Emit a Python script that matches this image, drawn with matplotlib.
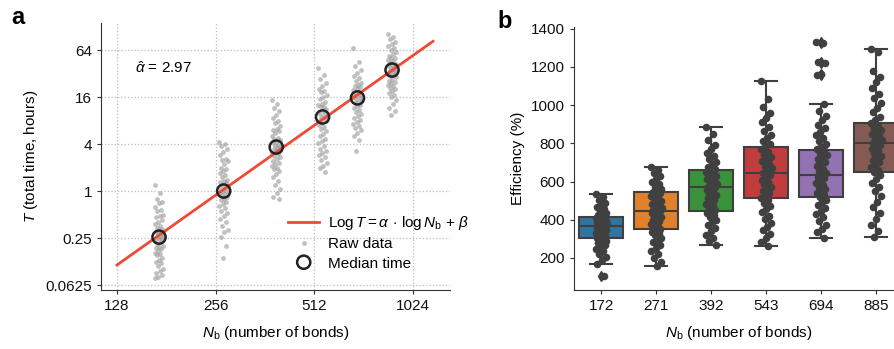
import numpy as np
import matplotlib
matplotlib.use("Agg")
import matplotlib.pyplot as plt
from matplotlib.ticker import FixedLocator, FixedFormatter, NullLocator

plt.rcParams['font.family'] = ['Liberation Sans', 'DejaVu Sans']
plt.rcParams['mathtext.fontset'] = 'custom'
plt.rcParams['mathtext.rm'] = 'Liberation Sans'
plt.rcParams['mathtext.it'] = 'Liberation Sans:italic'
plt.rcParams['font.size'] = 11

# ---- panel a data (hours) ----
n_bonds = [172, 271, 392, 543, 694, 885]
median_time = [0.257, 1.0, 3.66, 8.9, 15.6, 35.5]
alpha_hat = 2.97
fit_start = 128
fit_end = 1180
fit_t0 = 0.113

raw_172 = [1.2, 0.95, 0.8, 0.72, 0.7, 0.62, 0.58, 0.55, 0.5, 0.48, 0.46, 0.43, 0.4, 0.38,
           0.36, 0.34, 0.33, 0.31, 0.3, 0.29, 0.28, 0.27, 0.26, 0.26, 0.25, 0.24, 0.23, 0.22,
           0.21, 0.2, 0.19, 0.185, 0.18, 0.17, 0.16, 0.155, 0.15, 0.14, 0.13, 0.125, 0.12,
           0.11, 0.1, 0.095, 0.09, 0.085, 0.08, 0.077]
raw_271 = [4.3, 4.0, 3.8, 3.5, 3.2, 2.9, 2.6, 2.5, 2.4, 2.2, 2.0, 1.9, 1.8, 1.7, 1.6, 1.5,
           1.4, 1.35, 1.3, 1.25, 1.2, 1.15, 1.1, 1.05, 1.0, 1.0, 0.97, 0.93, 0.9, 0.85, 0.8,
           0.76, 0.72, 0.68, 0.64, 0.6, 0.56, 0.52, 0.48, 0.44, 0.4, 0.36, 0.32, 0.3, 0.26,
           0.2, 0.14]
raw_392 = [14.6, 13, 11.5, 10.5, 9.5, 8.7, 8, 7.4, 6.8, 6.3, 6.0, 5.9, 5.5, 5.1, 4.8, 4.6,
           4.5, 4.3, 4.1, 3.9, 3.8, 3.7, 3.6, 3.5, 3.4, 3.3, 3.1, 3.0, 2.8, 2.7, 2.55, 2.4,
           2.3, 2.2, 2.1, 2.0, 1.9, 1.8, 1.65, 1.5, 1.35, 1.2, 1.05, 0.95, 0.85, 0.79]
raw_543 = [37.5, 31, 27, 24, 22, 20, 19, 18.5, 17, 16, 15, 14, 13.2, 12.5, 12, 11.8, 11.2,
           10.6, 10.1, 9.6, 9.2, 8.9, 8.6, 8.2, 7.8, 7.4, 7.0, 6.6, 6.2, 5.8, 5.4, 5.0, 4.7,
           4.4, 4.1, 3.8, 3.5, 3.3, 3.1, 2.9, 2.7, 2.5, 2.3, 2.1, 1.95, 1.75]
raw_694 = [68, 45, 40, 36, 33, 30, 28, 26, 24.5, 23, 22, 21.5, 20.5, 19.5, 18.5, 17.5, 17,
           16.8, 16, 15.6, 15.2, 14.6, 14, 13.4, 12.8, 12.2, 11.6, 11, 10.4, 9.8, 9.2, 8.7,
           8.2, 7.7, 7.2, 6.8, 6.4, 6.0, 5.5, 5.0, 4.5, 3.25]
raw_885 = [103, 95, 88, 82, 77, 72, 68, 64, 60, 57, 54, 51, 50, 48, 46, 44, 42, 41, 40, 38.5,
           37, 36, 35.5, 35, 34, 33, 32, 31, 30, 28.5, 27, 26, 25, 24, 23, 22, 21, 20, 19,
           18, 17, 16, 14.5, 13, 11.5, 10.5, 9.4]
raw_time = [raw_172, raw_271, raw_392, raw_543, raw_694, raw_885]

# ---- panel b data (efficiency %) ----
eff_labels = ['172', '271', '392', '543', '694', '885']
box_q1 = [307, 354, 445, 515, 518, 648]
box_med = [366, 445, 569, 646, 636, 800]
box_q3 = [414, 545, 660, 783, 763, 905]
box_lo = [169, 158, 267, 261, 305, 309]
box_hi = [536, 676, 888, 1127, 1008, 1293]
box_fliers = [[107], [], [], [], [1330, 1325, 1225, 1220, 1165, 1160], []]
box_colors = ['#3274a1', '#e1812c', '#3a923a', '#c03d3e', '#9372b2', '#845b53']

eff_172 = [536, 520, 505, 490, 478, 466, 455, 445, 437, 430, 424, 418, 414, 410, 405, 400,
           396, 392, 388, 384, 380, 377, 373, 370, 366, 363, 360, 356, 352, 348, 344, 340,
           336, 332, 328, 324, 320, 316, 312, 307, 302, 296, 290, 283, 276, 268, 258, 248,
           236, 222, 205, 190, 169, 107]
eff_271 = [676, 660, 645, 628, 612, 598, 585, 574, 563, 554, 545, 538, 530, 522, 515, 507,
           500, 492, 485, 478, 470, 463, 456, 450, 445, 440, 434, 428, 421, 414, 407, 400,
           392, 384, 376, 368, 360, 354, 346, 337, 328, 318, 307, 295, 282, 268, 254, 238,
           220, 200, 180, 158]
eff_392 = [888, 850, 815, 790, 770, 750, 732, 716, 702, 690, 678, 668, 660, 652, 644, 636,
           628, 620, 612, 604, 596, 588, 580, 574, 569, 563, 556, 548, 540, 531, 522, 512,
           502, 492, 482, 472, 462, 453, 445, 436, 426, 414, 400, 386, 372, 356, 340, 322,
           305, 287, 267]
eff_543 = [1127, 1030, 990, 960, 935, 910, 888, 866, 846, 828, 812, 797, 783, 770, 757, 744,
           731, 718, 706, 694, 682, 670, 658, 646, 634, 622, 610, 598, 586, 574, 562, 550,
           538, 527, 515, 502, 488, 473, 457, 440, 422, 403, 384, 364, 344, 323, 302, 282, 261]
eff_694 = [1330, 1325, 1225, 1220, 1165, 1160, 1008, 970, 945, 920, 898, 878, 860, 843, 827,
           812, 797, 783, 770, 763, 752, 740, 728, 716, 704, 692, 680, 668, 657, 646, 636,
           626, 616, 605, 594, 583, 572, 561, 550, 540, 529, 518, 506, 493, 479, 464, 448,
           431, 413, 394, 374, 354, 334, 305]
eff_885 = [1293, 1280, 1180, 1150, 1120, 1090, 1060, 1035, 1010, 985, 962, 940, 920, 905,
           893, 882, 871, 860, 850, 840, 830, 820, 810, 800, 790, 780, 770, 760, 748, 736,
           724, 712, 700, 688, 676, 662, 648, 632, 614, 594, 572, 548, 522, 494, 466, 436,
           405, 372, 340, 309]
eff_values = [eff_172, eff_271, eff_392, eff_543, eff_694, eff_885]


def spread(n, width):
    # deterministic jitter pattern
    k = np.arange(n)
    return ((k * 0.6180339) % 1.0 - 0.5) * 2 * width


fig = plt.figure(figsize=(8.94, 3.49), dpi=100)
spine_col = '#333333'

# ================= panel a =================
ax = fig.add_axes([0.113, 0.169, 0.390, 0.765])
ax.set_xscale('log', base=2)
ax.set_yscale('log', base=2)

for nb, vals in zip(n_bonds, raw_time):
    xs = nb * 2 ** spread(len(vals), 0.045)
    ax.scatter(xs, vals, s=12, color='#999999', alpha=0.6, linewidths=0, zorder=2)

fx = np.array([fit_start, fit_end])
fy = fit_t0 * (fx / fit_start) ** alpha_hat
ax.plot(fx, fy, color='#f04a36', lw=2, zorder=3,
        label=r'Log$\,T = \alpha\,\cdot\,$log$\,N_{\rm b}$ + $\beta$')
ax.scatter([], [], s=12, color='#999999', alpha=0.6, linewidths=0, label='Raw data')
ax.scatter(n_bonds, median_time, s=90, facecolors='none', edgecolors='#222222',
           linewidths=1.8, zorder=4, label='Median time')

ax.set_xlim(114.4, 1327)
ax.set_ylim(0.054, 142)
xt = [128, 256, 512, 1024]
yt = [0.0625, 0.25, 1, 4, 16, 64]
ax.xaxis.set_major_locator(FixedLocator(xt))
ax.xaxis.set_major_formatter(FixedFormatter([str(v) for v in xt]))
ax.xaxis.set_minor_locator(NullLocator())
ax.yaxis.set_major_locator(FixedLocator(yt))
ax.yaxis.set_major_formatter(FixedFormatter(['0.0625', '0.25', '1', '4', '16', '64']))
ax.yaxis.set_minor_locator(NullLocator())
ax.grid(True, ls=':', color='#bbbbbb', lw=0.9)
ax.set_axisbelow(True)
for s in ['top', 'right']:
    ax.spines[s].set_visible(False)
for s in ['left', 'bottom']:
    ax.spines[s].set_color(spine_col)
ax.tick_params(colors='#111111', length=3, color=spine_col)
ax.set_xlabel(r'$N_{\rm b}$ (number of bonds)', labelpad=8)
ax.set_ylabel(r'$T$ (total time, hours)')
ax.text(0.097, 0.83, r'$\hat{\alpha}$ = 2.97', transform=ax.transAxes,
        va='center', ha='left', fontsize=11)
ax.legend(loc='lower left', bbox_to_anchor=(0.52, 0.05), frameon=False,
          handlelength=2.0, handletextpad=0.6, labelspacing=0.35, borderaxespad=0,
          scatterpoints=1, scatteryoffsets=[0.5])
fig.text(0.013, 0.93, 'a', fontsize=17, fontweight='bold')

# ================= panel b =================
bx = fig.add_axes([0.642, 0.169, 0.369, 0.754])
stats = []
for i in range(len(eff_labels)):
    stats.append({'q1': box_q1[i], 'med': box_med[i], 'q3': box_q3[i],
                  'whislo': box_lo[i], 'whishi': box_hi[i], 'fliers': box_fliers[i]})
pos = np.arange(len(eff_labels))
bp = bx.bxp(stats, positions=pos, widths=0.8, patch_artist=True, showfliers=True,
            capwidths=0.4,
            boxprops=dict(edgecolor='#3f3f3f', linewidth=1.5),
            medianprops=dict(color='#3f3f3f', linewidth=1.5),
            whiskerprops=dict(color='#3f3f3f', linewidth=1.5),
            capprops=dict(color='#3f3f3f', linewidth=1.5),
            flierprops=dict(marker='d', markerfacecolor='#3f3f3f',
                            markeredgecolor='#3f3f3f', markersize=5))
for patch, c in zip(bp['boxes'], box_colors):
    patch.set_facecolor(c)

for i, vals in enumerate(eff_values):
    xs = i + spread(len(vals), 0.1)
    bx.scatter(xs, vals, s=30, color='#404040', linewidths=0, zorder=5)

bx.set_xlim(-0.5, 5.5)
bx.set_ylim(32, 1410)
bx.set_xticks(pos)
bx.set_xticklabels(eff_labels)
bx.set_yticks([200, 400, 600, 800, 1000, 1200, 1400])
for s in ['top', 'right']:
    bx.spines[s].set_visible(False)
for s in ['left', 'bottom']:
    bx.spines[s].set_color(spine_col)
bx.tick_params(colors='#111111', length=3, color=spine_col)
bx.set_xlabel(r'$N_{\rm b}$ (number of bonds)', labelpad=8)
bx.set_ylabel('Efficiency (%)')
fig.text(0.556, 0.92, 'b', fontsize=17, fontweight='bold')

fig.savefig('out.png', dpi=100)
